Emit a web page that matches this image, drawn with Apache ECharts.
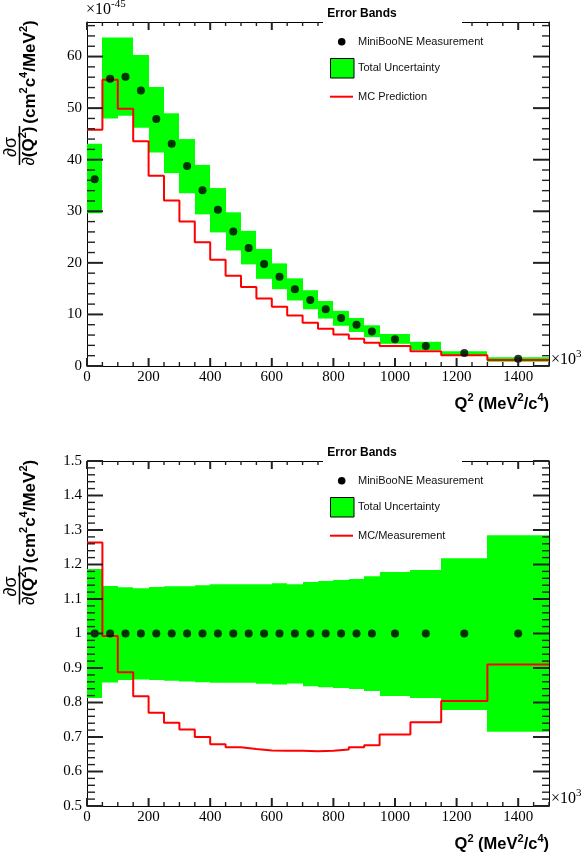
<!DOCTYPE html>
<html><head><meta charset="utf-8">
<script src="https://cdn.jsdelivr.net/npm/echarts@6/dist/echarts.min.js"></script>
<style>html,body{margin:0;padding:0;background:#fff}#c{width:582px;height:857px}</style>
</head><body><div id="c"></div><script>
// ---------------- data ----------------
const binEdges = [0,50,100,150,200,250,300,350,400,450,500,550,600,650,700,750,800,850,900,950,1050,1150,1300,1500];
const binCenters = [25,75,125,175,225,275,325,375,425,475,525,575,625,675,725,775,825,875,925,1000,1100,1225,1400];
// top panel (x 1e-45 cm^2 c^4 / MeV^2)
const measured = [36.2,55.7,56.1,53.4,47.9,43.1,38.8,34.1,30.3,26.1,22.9,19.8,17.3,14.9,12.8,11.0,9.3,8.0,6.7,5.2,3.9,2.5,1.4];
const bandHigh = [43.1,63.7,63.7,60.3,54.1,49.0,44.0,39.0,34.5,29.8,26.2,22.7,19.9,17.0,14.7,12.6,10.7,9.3,7.9,6.2,4.7,2.85,1.7];
const bandLow  = [29.6,48.0,48.5,46.2,41.4,37.4,33.5,29.4,25.9,22.4,19.7,16.9,14.9,12.7,11.0,9.2,7.8,6.6,5.6,4.3,3.1,1.94,0.84];
const mcPrediction = [45.8,55.5,49.9,43.6,36.9,32.1,28.0,24.0,20.6,17.5,15.3,13.1,11.5,9.8,8.4,7.2,6.1,5.3,4.5,3.9,2.85,2.1,1.16];
// bottom panel (ratio to measurement)
const ratioMeasured = [1,1,1,1,1,1,1,1,1,1,1,1,1,1,1,1,1,1,1,1,1,1,1];
const ratioBandHigh = [1.187,1.138,1.134,1.131,1.135,1.137,1.137,1.140,1.143,1.143,1.143,1.143,1.146,1.143,1.149,1.152,1.155,1.158,1.166,1.178,1.184,1.218,1.285];
const ratioBandLow  = [0.813,0.858,0.865,0.867,0.865,0.863,0.861,0.859,0.857,0.857,0.857,0.854,0.852,0.855,0.847,0.844,0.842,0.839,0.833,0.819,0.813,0.778,0.715];
const ratioMC = [1.264,0.993,0.888,0.818,0.770,0.741,0.722,0.700,0.679,0.670,0.665,0.661,0.660,0.660,0.659,0.660,0.664,0.670,0.676,0.707,0.743,0.804,0.910];
// axis ranges and tick steps
const xRange = [0, 1500];
const xTickStep = [200, 50];          // major, minor
const topYRange = [0, 66.7];
const topYTickStep = [10, 2];
const bottomYRange = [0.5, 1.5];
const bottomYTickStep = [0.1, 0.02];
const legendTitle = 'Error Bands';
const legendTop = ['MiniBooNE Measurement','Total Uncertainty','MC Prediction'];
const legendBottom = ['MiniBooNE Measurement','Total Uncertainty','MC/Measurement'];

// ---------------- helpers ----------------
function bandData(lo, hi){ return lo.map((v,i)=>[binEdges[i], binEdges[i+1], v, hi[i]]); }
function stepData(v){ const out=[]; v.forEach((y,i)=>{ out.push([binEdges[i], y]); out.push([binEdges[i+1], y]); }); return out; }
function pointData(v){ return binCenters.map((c,i)=>[c, v[i]]); }
function tickValues(range, step){ const out=[]; const n=Math.floor((range[1]-range[0])/step+1e-6); for(let k=0;k<=n;k++) out.push(+(range[0]+k*step).toFixed(6)); return out; }
function isMultiple(v, step, origin){ const r=(v-origin)/step; return Math.abs(r-Math.round(r))<1e-6; }

const SERIF = '"Liberation Serif", "DejaVu Serif", serif';
const SANS = '"Liberation Sans", Arial, sans-serif';
const fmt = v => String(+(+v).toFixed(4));

function makeAxes(g, yr){
  const mk = (o) => Object.assign({gridIndex:g, type:'value', splitLine:{show:false}, axisTick:{show:false}}, o);
  const line = {show:true, onZero:false, lineStyle:{color:'#000', width:1}};
  const xs = [
    mk({position:'bottom', min:xRange[0], max:xRange[1], interval:xTickStep[0], axisLine:line,
      axisLabel:{show:true, margin:4, showMaxLabel:false, color:'#000', fontFamily:SERIF, fontSize:15, formatter:fmt}}),
    mk({position:'top', min:xRange[0], max:xRange[1], interval:xTickStep[0], axisLine:line, axisLabel:{show:false}})
  ];
  const ys = [
    mk({position:'left', min:yr[0], max:yr[1], interval:(g===0?topYTickStep:bottomYTickStep)[0], axisLine:line,
      axisLabel:{show:true, margin:5, showMaxLabel: g===1, color:'#000', fontFamily:SERIF, fontSize:15, formatter:fmt}}),
    mk({position:'right', min:yr[0], max:yr[1], interval:(g===0?topYTickStep:bottomYTickStep)[0], axisLine:line, axisLabel:{show:false}})
  ];
  return {xs, ys};
}

// tick marks: [side(0 bottom,1 top,2 left,3 right), value, isMajor]
function tickData(yr, yStep){
  const out = [];
  tickValues(xRange, xTickStep[1]).forEach(v => { const maj = isMultiple(v, xTickStep[0], xRange[0]) ? 1 : 0; out.push([0, v, maj]); out.push([1, v, maj]); });
  tickValues(yr, yStep[1]).forEach(v => { const maj = isMultiple(v, yStep[0], yr[0]) ? 1 : 0; out.push([2, v, maj]); out.push([3, v, maj]); });
  return out;
}

function makeSeries(g, lo, hi, mc, pts, mcName, yr, yStep){
  const idx = g*2;
  return [
    {type:'custom', name:'Total Uncertainty', xAxisIndex:idx, yAxisIndex:idx, z:1,
     data: bandData(lo, hi),
     renderItem: function(params, api){
       const p0 = api.coord([api.value(0), api.value(3)]);
       const p1 = api.coord([api.value(1), api.value(2)]);
       const x0 = Math.round(p0[0]), x1 = Math.round(p1[0]);
       return {type:'rect', shape:{x:x0, y:p0[1], width:x1-x0, height:p1[1]-p0[1]}, style:{fill:'#00ff00'}};
     }},
    {type:'line', name:mcName, xAxisIndex:idx, yAxisIndex:idx, z:3, data: stepData(mc),
     showSymbol:false, symbol:'none', lineStyle:{color:'#ff0000', width:2}, itemStyle:{color:'#ff0000'}},
    {type:'scatter', name:'MiniBooNE Measurement', xAxisIndex:idx, yAxisIndex:idx, z:4, data: pointData(pts),
     symbol:'circle', symbolSize:8, itemStyle:{color:'#000'}},
    {type:'custom', name:'ticks', xAxisIndex:idx, yAxisIndex:idx, z:10, silent:true, clip:false,
     data: tickData(yr, yStep),
     renderItem: function(params, api){
       const side = api.value(0), v = api.value(1), maj = api.value(2);
       const W = maj ? 2 : 1.4;
       let p, rect;
       if (side === 0) { p = api.coord([v, yr[0]]); const L = maj ? 8 : 4; rect = {x:p[0]-W/2, y:p[1]-L, width:W, height:L}; }
       else if (side === 1) { p = api.coord([v, yr[1]]); const L = maj ? 8 : 4; rect = {x:p[0]-W/2, y:p[1], width:W, height:L}; }
       else if (side === 2) { p = api.coord([xRange[0], v]); const L = maj ? 16 : 8; rect = {x:p[0], y:p[1]-W/2, width:L, height:W}; }
       else { p = api.coord([xRange[1], v]); const L = maj ? 16 : 7; rect = {x:p[0]-L, y:p[1]-W/2, width:L, height:W}; }
       return {type:'rect', shape:rect, style:{fill:'#222'}};
     }}
  ];
}

function sup(str){
  let out=''; const re = /\^\{([^}]*)\}/g; let m; let last=0;
  while((m = re.exec(str))){ if(m.index>last) out += '{b|'+str.slice(last,m.index)+'}'; out += '{s|'+m[1]+'}'; last = re.lastIndex; }
  if(last<str.length) out += '{b|'+str.slice(last)+'}';
  return out;
}

function legend(y0, labels){
  const x0=323, w=139;
  return [
    {type:'rect', z:100, shape:{x:x0, y:y0-16, width:w, height:104}, style:{fill:'#fff'}},
    {type:'text', z:101, x:362, y:y0-8, style:{text:legendTitle, font:'bold 12px '+SANS, fill:'#000', align:'center', verticalAlign:'middle'}},
    {type:'circle', z:101, shape:{cx:341.7, cy:y0+19.7, r:3.8}, style:{fill:'#000'}},
    {type:'text', z:101, x:358, y:y0+19.7, style:{text:labels[0], font:'11px '+SANS, fill:'#111', align:'left', verticalAlign:'middle'}},
    {type:'rect', z:101, shape:{x:330.5, y:y0+36.5, width:23.5, height:19.5}, style:{fill:'#00ff00', stroke:'#000', lineWidth:1}},
    {type:'text', z:101, x:358, y:y0+46.3, style:{text:labels[1], font:'11px '+SANS, fill:'#111', align:'left', verticalAlign:'middle'}},
    {type:'line', z:101, shape:{x1:330, y1:y0+74.7, x2:353, y2:y0+74.7}, style:{stroke:'#ff0000', lineWidth:2}},
    {type:'text', z:101, x:358, y:y0+74.7, style:{text:labels[2], font:'11px '+SANS, fill:'#111', align:'left', verticalAlign:'middle'}}
  ];
}

function yTitle(dy){
  const rich = {b:{font:'bold 17px '+SANS}, s:{font:'bold 11px '+SANS, padding:[0,0,12,0]}, r:{font:'17px '+SANS}};
  return [
    {type:'text', z:101, x:30, y:72+dy, rotation:Math.PI/2,
     style:{text: sup('(cm^{2}c^{4}/MeV^{2})'), rich, fill:'#000', align:'center', verticalAlign:'middle'}},
    {type:'text', z:101, x:11, y:147+dy, rotation:Math.PI/2,
     style:{text:'\u2202\u03c3', font:'18px '+SANS, fill:'#000', align:'center', verticalAlign:'middle'}},
    {type:'line', z:101, shape:{x1:19.5, y1:126+dy, x2:19.5, y2:165+dy}, style:{stroke:'#000', lineWidth:1.5}},
    {type:'text', z:101, x:29, y:146+dy, rotation:Math.PI/2,
     style:{text:'{r|\u2202}'+sup('(Q^{2})'), rich, fill:'#000', align:'center', verticalAlign:'middle'}}
  ];
}

function xTitle(y){
  const rich = {b:{font:'bold 16.5px '+SANS}, s:{font:'bold 11px '+SANS, padding:[0,0,12,0]}};
  return {type:'text', z:101, x:549, y:y, style:{text: sup('Q^{2} (MeV^{2}/c^{4})'), rich, fill:'#000', align:'right', verticalAlign:'middle'}};
}

function times10(x, y, exp){
  const rich = {b:{font:'16px '+SERIF}, s:{font:'11px '+SERIF, padding:[0,0,12,0]}};
  return {type:'text', z:101, x:x, y:y, style:{text:'{b|\u00d710}{s|'+exp+'}', rich, fill:'#000', align:'left', verticalAlign:'middle'}};
}

const a0 = makeAxes(0, topYRange);
const a1 = makeAxes(1, bottomYRange);

const option = {
  animation:false,
  backgroundColor:'#fff',
  grid:[
    {left:87, top:22, width:462, height:344, containLabel:false, outerBoundsMode:'none'},
    {left:87, top:461, width:462, height:345, containLabel:false, outerBoundsMode:'none'}
  ],
  xAxis: a0.xs.concat(a1.xs),
  yAxis: a0.ys.concat(a1.ys),
  series: makeSeries(0, bandLow, bandHigh, mcPrediction, measured, 'MC Prediction', topYRange, topYTickStep)
          .concat(makeSeries(1, ratioBandLow, ratioBandHigh, ratioMC, ratioMeasured, 'MC/Measurement', bottomYRange, bottomYTickStep)),
  graphic:{elements: [].concat(
    legend(22, legendTop),
    legend(461, legendBottom),
    yTitle(0), yTitle(439.5),
    [xTitle(404), xTitle(844.5), times10(86, 10, '-45'), times10(551, 360, '3'), times10(551, 799, '3')]
  )}
};
const chart = echarts.init(document.getElementById('c'), null, {renderer:'canvas'});
chart.setOption(option);
</script></body></html>
